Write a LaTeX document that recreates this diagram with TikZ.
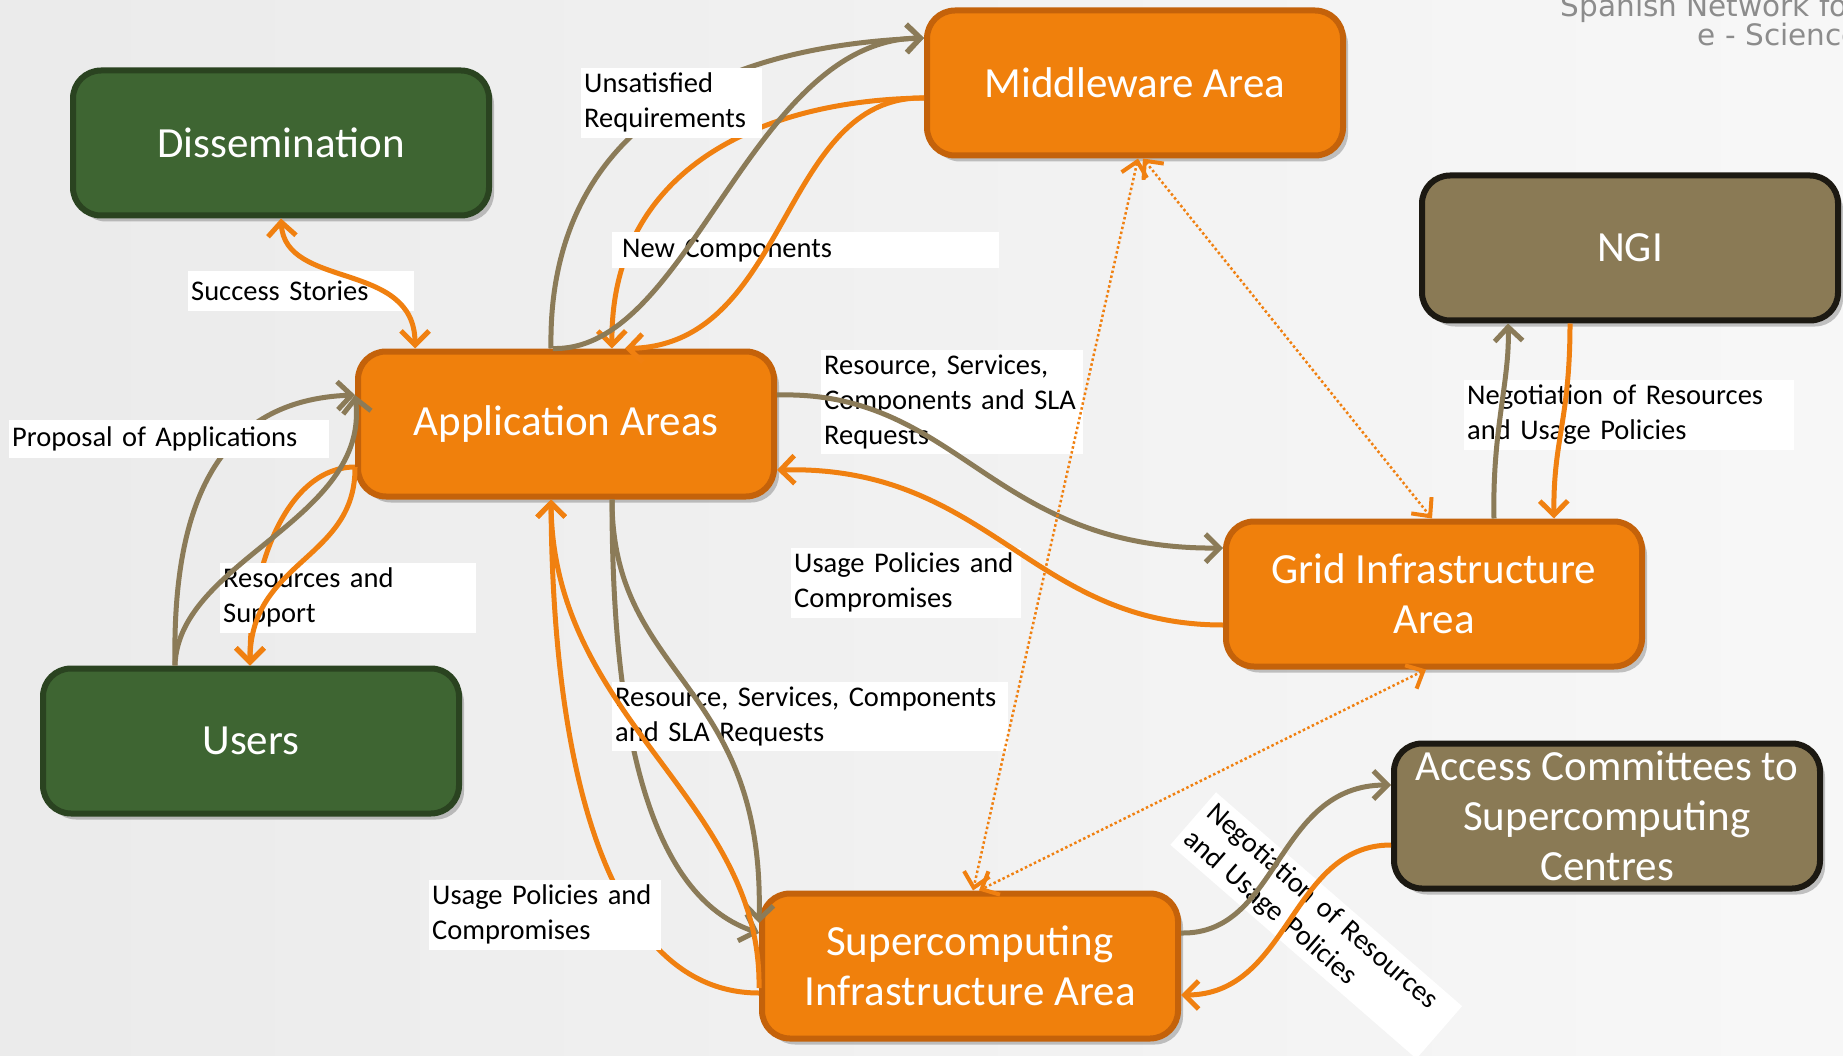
\documentclass[tikz,border=0pt]{standalone}
\usepackage{fontspec}
\setmainfont{Carlito}
\newfontfamily\brandfont{DejaVu Sans}
\usetikzlibrary{arrows.meta,shadows,calc}

\definecolor{areagreen}{HTML}{3E6532}
\definecolor{areagreenline}{HTML}{2A4320}
\definecolor{areaorange}{HTML}{F0800C}
\definecolor{areaorangeline}{HTML}{C4620A}
\definecolor{areaolive}{HTML}{8A7A55}
\definecolor{areaoliveline}{HTML}{1C1912}
\definecolor{flowolive}{HTML}{8B7B58}
\definecolor{floworange}{HTML}{F08010}
\definecolor{brandgray}{HTML}{8C8C8C}

\begin{document}
\begin{tikzpicture}[x=1pt, y=-1pt,
    >={Straight Barb[length=14pt,width=28pt]},
    area/.style={draw, line width=6pt, rounded corners=28pt, minimum width=416pt, minimum height=145pt,
      inner sep=2pt, align=center, text=white, font=\fontsize{43}{50}\selectfont,
      drop shadow={shadow xshift=5pt, shadow yshift=-6pt, fill=black, opacity=0.22}},
    green area/.style={area, fill=areagreen, draw=areagreenline},
    orange area/.style={area, fill=areaorange, draw=areaorangeline},
    olive area/.style={area, fill=areaolive, draw=areaoliveline},
    lbl/.style={fill=white, anchor=north west, align=left, inner xsep=3pt, inner ysep=5pt,
      font=\fontsize{28.5}{35}\selectfont},
    olv/.style={draw=flowolive, line width=5pt, ->},
    org/.style={draw=floworange, line width=5pt, ->},
    link/.style={draw=floworange, line width=2.5pt, dash pattern=on 2.5pt off 2.5pt,
      >={Straight Barb[length=14pt,width=26pt,line width=4pt]}, <->}
  ]
  \useasboundingbox (0,0) rectangle (1843,1056);
  \clip (0,0) rectangle (1843,1056);
  \shade[left color=black!8, right color=black!3] (0,0) rectangle (1843,1056);

  % areas
  \node[green area] (diss) at (281,143) {Dissemination};
  \node[orange area] (mid) at (1135,83) {Middleware Area};
  \node[olive area] (ngi) at (1630,248) {NGI};
  \node[orange area] (app) at (566,424) {Application Areas};
  \node[orange area] (grid) at (1434,594) {Grid Infrastructure\\Area};
  \node[green area] (users) at (251,741) {Users};
  \node[orange area] (super) at (970,966) {Supercomputing\\Infrastructure Area};
  \node[olive area, minimum width=426pt] (acc) at (1607,816) {Access Committees to\\Supercomputing\\Centres};

  % flows that run behind the labels
  \draw[olv] ($(app.north)+(-15,0)$) .. controls (548,180) and (650,50) .. ($(mid.west)+(0,-45)$);
  \draw[org] ($(mid.west)+(0,15)$) .. controls (760,100) and (610,170) .. ($(app.north)+(46,0)$);
  \draw[org] ($(app.west)+(0,43)$) .. controls (290,467) and (250,560) .. ($(users.north)+(-1,0)$);
  \draw[olv] ($(users.north)+(-76,0)$) .. controls (172,500) and (220,400) .. ($(app.west)+(0,-29)$);
  \draw[olv] ($(app.south)+(46,0)$) .. controls (612,760) and (660,900) .. ($(super.west)+(0,-33)$);
  \draw[org] ($(super.west)+(0,27)$) .. controls (620,993) and (553,800) .. ($(app.south)+(-15,0)$);

  % labels
  \node[lbl, text width=220pt, minimum height=40pt] (lsuccess) at (188,271) {Success Stories};
  \node[lbl, text width=175pt] (lunsat) at (581,68) {Unsatisfied\\Requirements};
  \node[lbl, text width=367pt, inner xsep=10pt, minimum height=36pt] (lnew) at (612,232) {New Components};
  \node[lbl, text width=314pt, minimum height=38pt] (lprop) at (9,420) {Proposal of Applications};
  \node[lbl, text width=256pt] (lreq) at (821,350) {Resource, Services,\\Components and SLA\\Requests};
  \node[lbl, text width=224pt] (lusage) at (791,548) {Usage Policies and\\Compromises};
  \node[lbl, text width=250pt] (lsupport) at (220,563) {Resources and\\Support};
  \node[lbl, text width=390pt] (lreqlow) at (612,682) {Resource, Services, Components\\and SLA Requests};
  \node[lbl, text width=226pt] (lusagelow) at (429,880) {Usage Policies and\\Compromises};
  \node[lbl, text width=324pt] (lngi) at (1464,380) {Negotiation of Resources\\and Usage Policies};
  \node[lbl, text width=312pt, inner xsep=7pt, rotate=-41] (lacc) at (1216,792) {Negotiation of Resources\\and Usage Policies};

  % flows over the labels
  \draw[org, <->] (diss.south) .. controls (285,290) and (415,260) .. ($(app.north)+(-151,0)$);
  \draw[olv] ($(app.north)+(-13,0)$) .. controls (690,352) and (750,40) .. ($(mid.west)+(0,-45)$);
  \draw[org] ($(mid.west)+(0,15)$) .. controls (780,95) and (790,345) .. ($(app.north)+(59,0)$);
  \draw[org] ($(app.west)+(0,43)$) .. controls (356,560) and (250,560) .. ($(users.north)+(-1,0)$);
  \draw[olv] ($(users.north)+(-76,0)$) .. controls (178,560) and (370,520) .. ($(app.west)+(0,-29)$);
  \draw[olv] ($(app.east)+(0,-29)$) .. controls (960,390) and (990,550) .. ($(grid.west)+(0,-46)$);
  \draw[org] ($(grid.west)+(0,31)$) .. controls (1030,625) and (990,465) .. ($(app.east)+(0,46)$);
  \draw[olv] ($(app.south)+(46,0)$) .. controls (612,680) and (765,680) .. ($(super.west)+(0,-43)$);
  \draw[org] ($(super.west)+(0,22)$) .. controls (762,800) and (553,720) .. ($(app.south)+(-15,0)$);
  \draw[olv] ($(grid.north)+(60,0)$) .. controls (1492,430) and (1510,380) .. ($(ngi.south)+(-122,0)$);
  \draw[org] ($(ngi.south)+(-60,0)$) .. controls (1570,420) and (1553,440) .. ($(grid.north)+(120,0)$);
  \draw[olv] ($(super.east)+(0,-33)$) .. controls (1280,935) and (1275,785) .. ($(acc.west)+(0,-31)$);
  \draw[org] ($(acc.west)+(0,29)$) .. controls (1290,845) and (1290,995) .. ($(super.east)+(0,29)$);

  % dotted links between infrastructure areas
  \draw[link] ($(mid.south)+(3,0)$) -- ($(super.north)+(3,0)$);
  \draw[link] ($(mid.south)+(8,0)$) -- ($(grid.north)+(-2,0)$);
  \draw[link] ($(grid.south)+(-8,0)$) -- ($(super.north)+(9,0)$);

  \node[anchor=base east, inner sep=0pt, text=brandgray, font=\brandfont\fontsize{29.5}{29.5}\selectfont] (brandtop) at (1860,17) {Spanish Network for};
  \node[anchor=base east, inner sep=0pt, text=brandgray, font=\brandfont\fontsize{29.5}{29.5}\selectfont] (brandbottom) at (1860,46) {e - Science};
\end{tikzpicture}
\end{document}
